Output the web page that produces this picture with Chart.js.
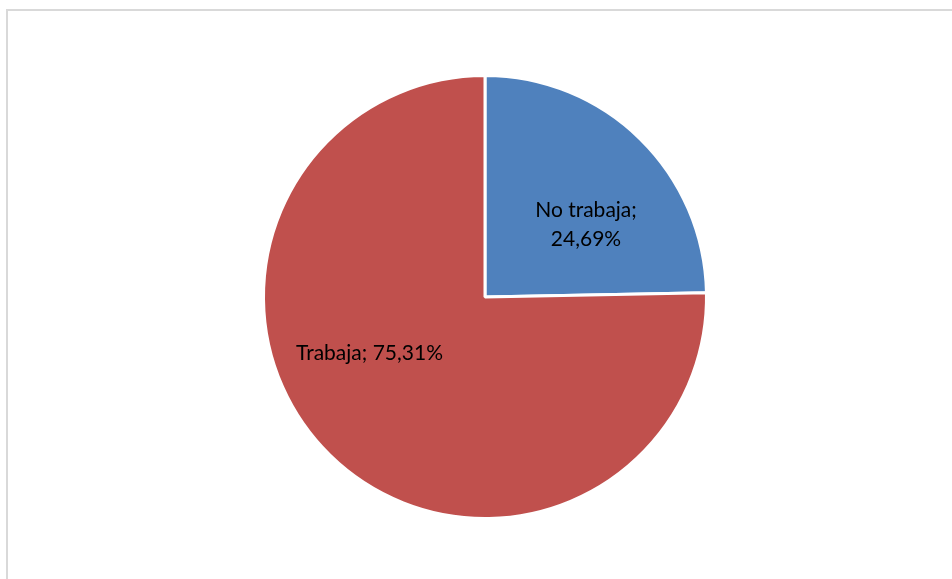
<!DOCTYPE html>
<html>
<head>
<meta charset="utf-8">
<script src="https://cdn.jsdelivr.net/npm/chart.js@4/dist/chart.umd.min.js"></script>
<style>
  html, body { margin: 0; padding: 0; background: #fff; overflow: hidden; }
  #wrap { position: relative; width: 952px; height: 579px; }
  #frame { position: absolute; left: 6px; top: 9px; width: 1000px; height: 1000px; border: 2px solid #d9d9d9; box-sizing: border-box; }
  canvas { position: absolute; left: 0; top: 0; }
</style>
</head>
<body>
<div id="wrap">
  <div id="frame"></div>
  <canvas id="chartPie" width="952" height="579"></canvas>
</div>
<script>
// datos del grafico
const categorias = ["No trabaja", "Trabaja"];
const porcentajes = [24.69, 75.31];
const colores = ["#4F81BD", "#C0504D"];

function fmt(v) { return v.toFixed(2).replace(".", ",") + "%"; }

// etiquetas dentro de cada porcion (angulo en grados del canvas, fraccion del radio)
const etiquetasPlugin = {
  id: "etiquetas",
  afterDatasetsDraw(chart, args, opts) {
    const ctx = chart.ctx;
    const meta = chart.getDatasetMeta(0);
    ctx.save();
    ctx.font = "21px Lato, 'Open Sans', sans-serif";
    ctx.fillStyle = "#000";
    ctx.textAlign = "center";
    ctx.textBaseline = "middle";
    meta.data.forEach((arc, i) => {
      const p = opts.pos[i];
      const a = p.ang * Math.PI / 180;
      const x = arc.x + Math.cos(a) * arc.outerRadius * p.r;
      const y = arc.y + Math.sin(a) * arc.outerRadius * p.r;
      const lines = p.split
        ? [categorias[i] + ";", fmt(porcentajes[i])]
        : [categorias[i] + "; " + fmt(porcentajes[i])];
      const lh = 29;
      lines.forEach((t, k) => ctx.fillText(t, x, y + (k - (lines.length - 1) / 2) * lh));
    });
    ctx.restore();
  }
};

new Chart(document.getElementById("chartPie"), {
  type: "pie",
  data: {
    labels: categorias,
    datasets: [{ data: porcentajes, backgroundColor: colores, borderColor: "#fff", borderWidth: 3 }]
  },
  options: {
    responsive: false,
    animation: false,
    layout: { padding: { left: 18, right: 0, top: 74, bottom: 59 } },
    plugins: {
      legend: { display: false },
      tooltip: { enabled: false },
      etiquetas: { pos: [{ ang: -35.5, r: 0.56, split: true }, { ang: 154, r: 0.58, split: false }] }
    }
  },
  plugins: [etiquetasPlugin]
});
</script>
</body>
</html>
